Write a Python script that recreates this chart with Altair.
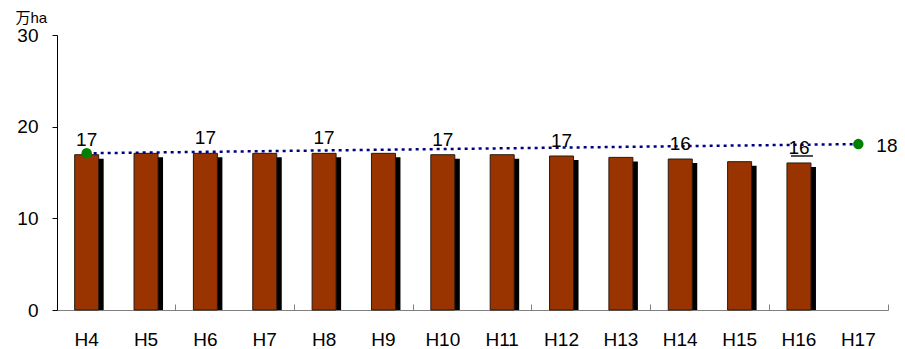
import altair as alt
import pandas as pd

# ---- data ----
years = ["H4", "H5", "H6", "H7", "H8", "H9", "H10", "H11", "H12", "H13", "H14", "H15", "H16", "H17"]
bar_years = ["H4", "H5", "H6", "H7", "H8", "H9", "H10", "H11", "H12", "H13", "H14", "H15", "H16"]
bar_values = [16.94, 17.09, 17.09, 17.09, 17.09, 17.09, 16.94, 16.94, 16.8, 16.65, 16.47, 16.18, 16.04]

label_years = ["H4", "H6", "H8", "H10", "H12", "H14", "H16"]
label_texts = ["17", "17", "17", "17", "17", "16", "16"]

trend_years = ["H4", "H17"]
trend_values = [17.1, 18.1]
trend_end_text = "18"

underline_years = ["H16"]

tick_years = ["H5", "H7", "H9", "H11", "H13", "H15", "H17"]
y_ticks = [0, 10, 20, 30]

FONT = "Liberation Sans"
W, H = 831, 275

bars_df = pd.DataFrame({"year": bar_years, "value": bar_values})
bar_lookup = dict(zip(bar_years, bar_values))
labels_df = pd.DataFrame({"year": label_years, "text": label_texts,
                          "value": [bar_lookup[y] for y in label_years]})
trend_df = pd.DataFrame({"year": trend_years, "value": trend_values})
end_df = pd.DataFrame({"year": [trend_years[-1]], "value": [trend_values[-1]], "text": [trend_end_text]})
under_df = pd.DataFrame({"year": underline_years, "value": [bar_lookup[y] for y in underline_years]})

xscale = alt.Scale(domain=years, paddingInner=0, paddingOuter=0)
yscale = alt.Scale(domain=[0, 30])

x_main = alt.X("year:N", scale=xscale, sort=years, title=None,
               axis=alt.Axis(orient="bottom", labelAngle=0, ticks=False, labelFontSize=19,
                             labelFont=FONT, labelColor="black", labelPadding=20,
                             domainColor="#808080", domainWidth=1, grid=False))
y_main = alt.Y("value:Q", scale=yscale,
               axis=alt.Axis(values=y_ticks, title="万ha", titleAngle=0, titleAlign="left",
                             titleBaseline="middle", titleX=-42, titleY=-18,
                             titleFontSize=15, titleFontWeight="normal",
                             titleFont="Liberation Sans, Noto Sans CJK JP", titleColor="black",
                             labelFontSize=19, labelFont=FONT, labelColor="black",
                             labelPadding=14, tickSize=5, tickColor="black",
                             domainColor="black", grid=False))

x_plain = alt.X("year:N", scale=xscale, sort=years, axis=None)
y_plain = alt.Y("value:Q", scale=yscale)

shadow = alt.Chart(bars_df).mark_bar(color="black", width=24, xOffset=5, yOffset=4, clip=True).encode(
    x=x_plain, y=y_main)

bars = alt.Chart(bars_df).mark_bar(color="#993300", width=24, stroke="#2a1a10", strokeWidth=1).encode(
    x=x_main, y=y_plain)

tick_axis = alt.Chart(bars_df).mark_bar(opacity=0).encode(
    x=alt.X("year:N", scale=xscale, sort=years, title=None,
            axis=alt.Axis(orient="top", offset=-H, values=tick_years, bandPosition=1,
                          tickExtra=False, labels=False, domain=False, tickSize=6,
                          tickColor="#808080", grid=False)),
    y=y_plain)

trend = alt.Chart(trend_df).mark_line(color="#000080", strokeWidth=2.5, strokeDash=[3, 4]).encode(
    x=x_plain, y=y_plain)

points = alt.Chart(trend_df).mark_point(filled=True, color="#008000", size=110, opacity=1).encode(
    x=x_plain, y=y_plain)

labels = alt.Chart(labels_df).mark_text(font=FONT, fontSize=19, color="black", baseline="alphabetic", dy=-9).encode(
    x=x_plain, y=y_plain, text="text:N")

end_label = alt.Chart(end_df).mark_text(font=FONT, fontSize=19, color="black", align="left",
                                        baseline="middle", dx=18, dy=2).encode(
    x=x_plain, y=y_plain, text="text:N")

underline = alt.Chart(under_df).mark_tick(color="black", size=22, thickness=2, yOffset=-7, xOffset=3,
                                          orient="horizontal").encode(
    x=x_plain, y=y_plain)

chart = alt.layer(shadow, bars, tick_axis, trend, points, labels, end_label, underline).resolve_axis(
    x="independent").properties(
    width=W, height=H,
    background="white",
    autosize=alt.AutoSizeParams(type="none"),
    padding={"left": 49, "top": 27, "right": 9, "bottom": 39},
).configure_view(strokeWidth=0, stroke="transparent")

chart.save("out.html", embed_options={"renderer": "svg", "actions": False})
